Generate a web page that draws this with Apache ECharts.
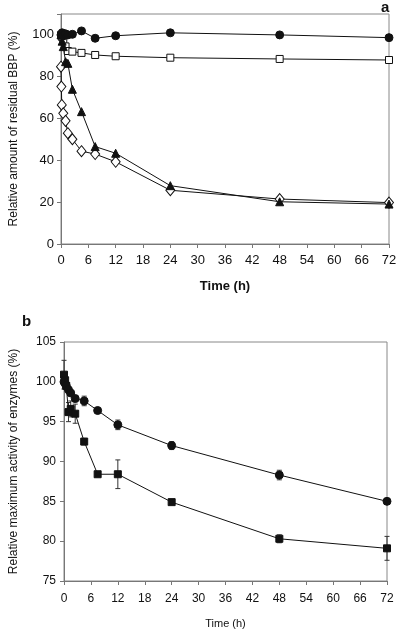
<!DOCTYPE html>
<html><head><meta charset="utf-8">
<script src="https://cdn.jsdelivr.net/npm/echarts@6/dist/echarts.min.js"></script>
<style>html,body{margin:0;padding:0;background:#fff}#c{width:400px;height:633px}</style>
</head><body><div id="c"></div>
<script>
// Panel a: residual BBP
const tA = [0, 0.25, 0.5, 1, 1.5, 2.5, 4.5, 7.5, 12, 24, 48, 72];
const circA = [100, 101, 99.5, 100.5, 100, 100.3, 101.9, 98.4, 99.6, 101, 100, 98.7];
const sqA = [100, 99, 97, 94.5, 92.3, 92, 91.4, 90.4, 89.8, 89.1, 88.5, 88];
const triA = [100, 97, 94.4, 87.2, 86.4, 74, 63.3, 46.6, 43.4, 27.9, 20.2, 19.1];
const tD = [0, 0.08, 0.17, 0.5, 1, 1.5, 2.5, 4.5, 7.5, 12, 24, 48, 72];
const diaA = [84.8, 75.3, 66.5, 62.5, 58.9, 53, 50.1, 44.4, 43, 39.3, 25.7, 21.5, 19.8];
// Panel b: enzyme activity
const tB = [0, 0.25, 0.5, 1, 1.5, 2.5, 4.5, 7.5, 12, 24, 48, 72];
const circB = [100, 99.8, 99.5, 99.0, 98.6, 97.9, 97.6, 96.4, 94.6, 92.0, 88.3, 85.0];
const sqB = [100.9, 100.2, 99.5, 96.2, 96.6, 96.0, 92.5, 88.4, 88.4, 84.9, 80.3, 79.1];
const errCircB = [0.3, 0, 0, 0, 0, 0.4, 0.6, 0, 0.6, 0.5, 0.6, 0.3];
const errSqB = [1.8, 0.5, 0, 1.2, 1.0, 1.2, 0.4, 0, 1.8, 0, 0.5, 1.5];
const xTicks = [0, 6, 12, 18, 24, 30, 36, 42, 48, 54, 60, 66, 72];

const zip = (xs, ys) => xs.map((x, i) => [x, ys[i]]);
const errData = (xs, ys, es) => xs.map((x, i) => [x, ys[i] - es[i], ys[i] + es[i]]).filter((d, i) => es[i] > 0);

const FONT = 'Liberation Sans';
const axisLine = {lineStyle: {color: '#777', width: 1}};
const axisTick = {lineStyle: {color: '#777'}, length: 4};

function xAxis(gi, nameBold, nameSize, gap, fs, margin) {
  return {
    type: 'value', gridIndex: gi, min: 0, max: 72, interval: 6,
    axisLine: axisLine, axisTick: axisTick, splitLine: {show: false},
    axisLabel: {color: '#111', fontFamily: FONT, fontSize: fs, margin: margin},
    name: 'Time (h)', nameLocation: 'middle', nameGap: gap,
    nameTextStyle: {color: '#111', fontFamily: FONT, fontSize: nameSize, fontWeight: nameBold ? 'bold' : 'normal'}
  };
}

function errSeries(xi, yi, data) {
  return {
    type: 'custom', xAxisIndex: xi, yAxisIndex: yi, data: data, z: 1,
    renderItem: function (params, api) {
      const x = api.value(0);
      const lo = api.coord([x, api.value(1)]);
      const hi = api.coord([x, api.value(2)]);
      const w = 2.5;
      const st = {stroke: '#333', lineWidth: 1};
      return {type: 'group', children: [
        {type: 'line', shape: {x1: lo[0], y1: lo[1], x2: hi[0], y2: hi[1]}, style: st},
        {type: 'line', shape: {x1: lo[0] - w, y1: lo[1], x2: lo[0] + w, y2: lo[1]}, style: st},
        {type: 'line', shape: {x1: hi[0] - w, y1: hi[1], x2: hi[0] + w, y2: hi[1]}, style: st}
      ]};
    }
  };
}

function lineS(xi, yi, data, symbol, size, fill) {
  return {
    type: 'line', xAxisIndex: xi, yAxisIndex: yi, data: data, symbol: symbol, symbolSize: size,
    showAllSymbol: true, z: 3,
    lineStyle: {color: '#111', width: 1},
    itemStyle: {color: fill, borderColor: '#111', borderWidth: 1, opacity: 1}
  };
}

const chart = echarts.init(document.getElementById('c'), null, {renderer: 'canvas'});
chart.setOption({
  animation: false,
  textStyle: {fontFamily: FONT},
  graphic: [
    {type: 'text', left: 381, top: 0, style: {text: 'a', font: 'bold 15px "Liberation Sans"', fill: '#111'}},
    {type: 'text', left: 22, top: 314, style: {text: 'b', font: 'bold 15px "Liberation Sans"', fill: '#111'}}
  ],
  grid: [
    {left: 61, right: 11, top: 14, bottom: 389, show: true, borderColor: '#888', borderWidth: 1, backgroundColor: 'transparent'},
    {left: 62, right: 13, top: 342, bottom: 52, show: true, borderColor: '#888', borderWidth: 1, backgroundColor: 'transparent'}
  ],
  xAxis: [xAxis(0, true, 13, 36, 13, 10), xAxis(1, false, 11, 37, 12, 12)],
  yAxis: [
    {type: 'value', gridIndex: 0, min: 0, max: 110, interval: 20,
     axisLine: {show: true, lineStyle: {color: '#777'}}, axisTick: {show: true, lineStyle: {color: '#777'}, length: 4}, splitLine: {show: false},
     axisLabel: {color: '#111', fontFamily: FONT, fontSize: 13, margin: 7, formatter: v => v > 100 ? '' : String(v)},
     name: 'Relative amount of residual BBP (%)', nameLocation: 'middle', nameGap: 41,
     nameTextStyle: {color: '#111', fontFamily: FONT, fontSize: 12}},
    {type: 'value', gridIndex: 1, min: 75, max: 105, interval: 5,
     axisLine: {show: true, lineStyle: {color: '#777'}}, axisTick: {show: true, lineStyle: {color: '#777'}, length: 4}, splitLine: {show: false},
     axisLabel: {color: '#111', fontFamily: FONT, fontSize: 12, margin: 8},
     name: 'Relative maximum activity of enzymes (%)', nameLocation: 'middle', nameGap: 44,
     nameTextStyle: {color: '#111', fontFamily: FONT, fontSize: 12}}
  ],
  series: [
    lineS(0, 0, zip(tA, sqA), 'rect', 7, '#fff'),
    lineS(0, 0, zip(tD, diaA), 'diamond', [9, 11], '#fff'),
    lineS(0, 0, zip(tA, triA), 'triangle', 8, '#111'),
    lineS(0, 0, zip(tA, circA), 'circle', 8, '#111'),
    errSeries(1, 1, errData(tB, circB, errCircB)),
    errSeries(1, 1, errData(tB, sqB, errSqB)),
    lineS(1, 1, zip(tB, sqB), 'rect', 7, '#111'),
    lineS(1, 1, zip(tB, circB), 'circle', 8, '#111')
  ]
});
</script>
</body></html>
